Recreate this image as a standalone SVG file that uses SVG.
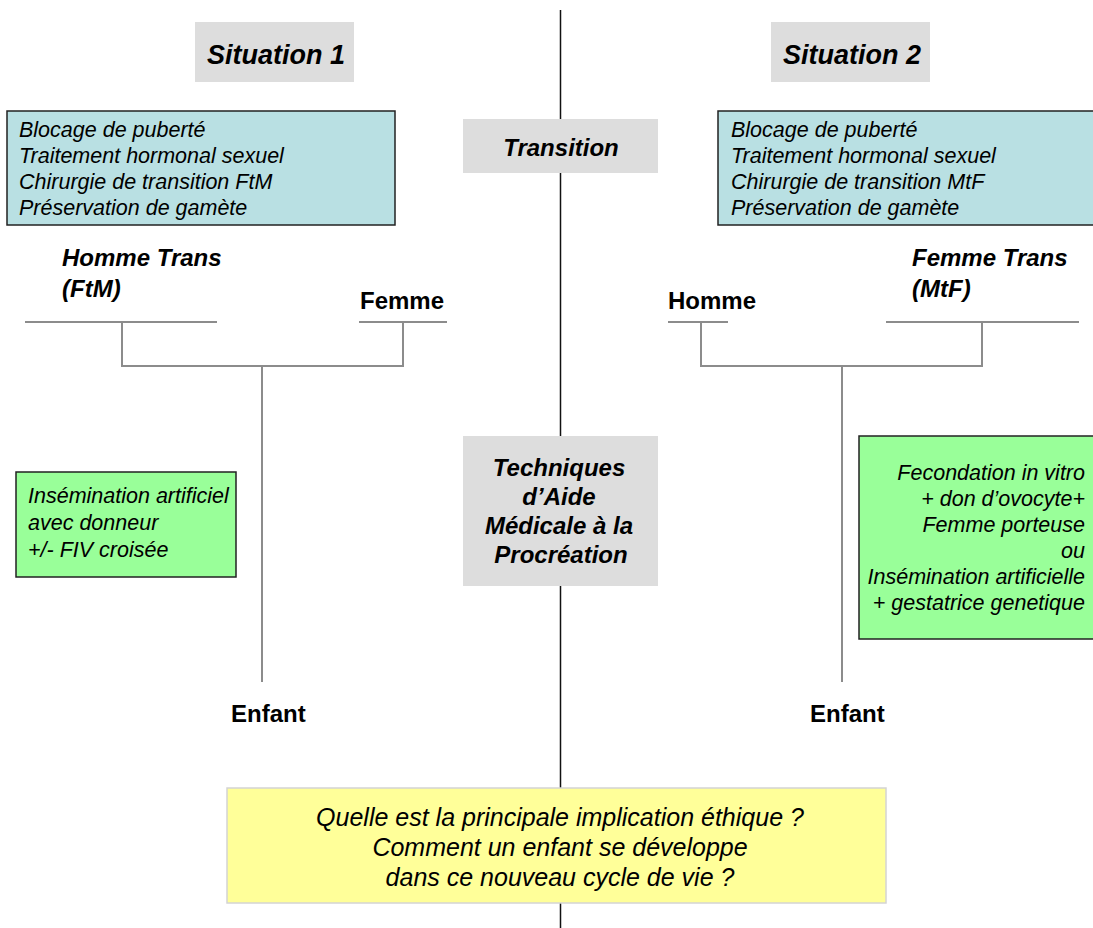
<svg xmlns="http://www.w3.org/2000/svg" width="1093" height="928" viewBox="0 0 1093 928">
<style>
text{font-family:"Liberation Sans",Arial,sans-serif;fill:#000}
.title{font-size:27px;font-weight:bold;font-style:italic;text-anchor:middle}
.hdr{font-size:24px;font-weight:bold;font-style:italic;text-anchor:middle}
.lbl{font-size:24px;font-weight:bold}
.lbli{font-size:24px;font-weight:bold;font-style:italic}
.body{font-size:21.5px;font-style:italic}
.q{font-size:25px;font-style:italic;text-anchor:middle}
.grey{fill:#dddddd}
.blue{fill:#b9e0e3;stroke:#222;stroke-width:1.5}
.green{fill:#99ff99;stroke:#222;stroke-width:1.5}
.yellow{fill:#ffff99;stroke:#d4d4d4;stroke-width:1.5}
.fam{fill:none;stroke:#8c8c8c;stroke-width:2}
.axis{stroke:#111;stroke-width:1.5}
</style>
<rect width="1093" height="928" fill="#fff"/>
<g id="connectors">
<line class="axis" x1="560.5" y1="10" x2="560.5" y2="928"/>
<line class="fam" x1="25" y1="322" x2="217" y2="322"/>
<line class="fam" x1="359" y1="322" x2="447" y2="322"/>
<polyline class="fam" points="122,322 122,366 403,366 403,322"/>
<line class="fam" x1="262" y1="366" x2="262" y2="682"/>
<line class="fam" x1="668" y1="322" x2="728" y2="322"/>
<line class="fam" x1="886" y1="322" x2="1079" y2="322"/>
<polyline class="fam" points="701,322 701,366 982,366 982,322"/>
<line class="fam" x1="842" y1="366" x2="842" y2="682"/>
</g>
<g id="situation1">
<rect class="grey" x="195" y="22" width="159" height="60"/>
<text class="title" x="276" y="64">Situation 1</text>
</g>
<g id="situation2">
<rect class="grey" x="771" y="22" width="159" height="60"/>
<text class="title" x="852" y="64">Situation 2</text>
</g>
<g id="transition">
<rect class="grey" x="463" y="119" width="195" height="54"/>
<text class="hdr" x="561" y="156">Transition</text>
</g>
<g id="transition-left">
<rect class="blue" x="7" y="111" width="388" height="114"/>
<text class="body" x="19"><tspan x="19" y="137">Blocage de puberté</tspan><tspan x="19" y="163">Traitement hormonal sexuel</tspan><tspan x="19" y="189">Chirurgie de transition FtM</tspan><tspan x="19" y="215">Préservation de gamète</tspan></text>
</g>
<g id="transition-right">
<rect class="blue" x="718" y="111" width="385" height="114"/>
<text class="body" x="731"><tspan x="731" y="137">Blocage de puberté</tspan><tspan x="731" y="163">Traitement hormonal sexuel</tspan><tspan x="731" y="189">Chirurgie de transition MtF</tspan><tspan x="731" y="215">Préservation de gamète</tspan></text>
</g>
<g id="homme-trans">
<text class="lbli" x="62"><tspan x="62" y="266">Homme Trans</tspan><tspan x="62" y="297">(FtM)</tspan></text>
</g>
<g id="femme">
<text class="lbl" x="360" y="309">Femme</text>
</g>
<g id="homme">
<text class="lbl" x="668" y="309">Homme</text>
</g>
<g id="femme-trans">
<text class="lbli" x="912"><tspan x="912" y="266">Femme Trans</tspan><tspan x="912" y="297">(MtF)</tspan></text>
</g>
<g id="amp">
<rect class="grey" x="463" y="436" width="195" height="150"/>
<text class="hdr"><tspan x="559" y="476">Techniques</tspan><tspan x="559" y="505">d’Aide</tspan><tspan x="559" y="534">Médicale à la</tspan><tspan x="561" y="563">Procréation</tspan></text>
</g>
<g id="amp-left">
<rect class="green" x="16" y="472" width="220" height="105"/>
<text class="body"><tspan x="28" y="503">Insémination artificiel</tspan><tspan x="28" y="530">avec donneur</tspan><tspan x="28" y="557">+/- FIV croisée</tspan></text>
</g>
<g id="amp-right">
<rect class="green" x="859" y="436" width="245" height="203"/>
<text class="body" text-anchor="end"><tspan x="1085" y="480">Fecondation in vitro</tspan><tspan x="1085" y="506">+ don d’ovocyte+</tspan><tspan x="1085" y="532">Femme porteuse</tspan><tspan x="1085" y="558">ou</tspan><tspan x="1085" y="584">Insémination artificielle</tspan><tspan x="1085" y="610">+ gestatrice genetique</tspan></text>
</g>
<g id="enfant1">
<text class="lbl" x="231" y="722">Enfant</text>
</g>
<g id="enfant2">
<text class="lbl" x="810" y="722">Enfant</text>
</g>
<g id="question">
<rect class="yellow" x="227" y="788" width="659" height="115"/>
<text class="q"><tspan x="560" y="826">Quelle est la principale implication éthique ?</tspan><tspan x="560" y="856">Comment un enfant se développe</tspan><tspan x="560" y="886">dans ce nouveau cycle de vie ?</tspan></text>
</g>
</svg>
